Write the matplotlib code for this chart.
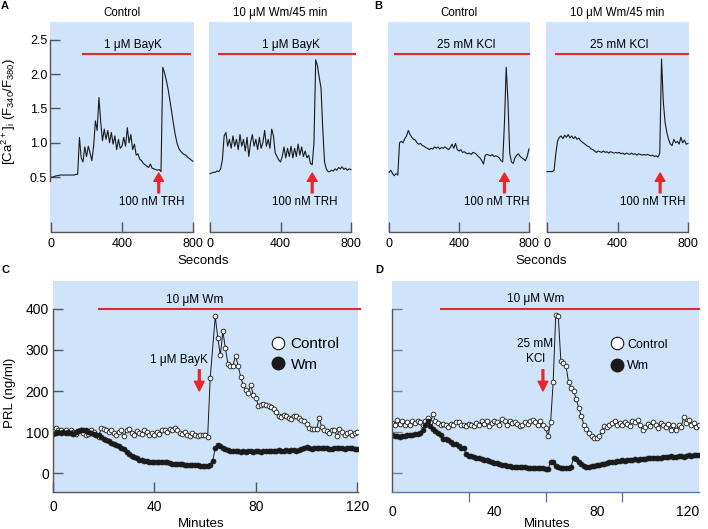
import matplotlib
matplotlib.use('Agg')
import matplotlib.pyplot as plt
import numpy as np
from matplotlib.lines import Line2D

plt.rcParams['font.family'] = ['Liberation Sans', 'DejaVu Sans']
plt.rcParams['mathtext.default'] = 'regular'

# ---------------- data ----------------
# Ca2+ traces, one value every 10 s (0..800 s)
sec = np.arange(0, 801, 10)
ca_bayk_ctrl = [0.50, 0.50, 0.51, 0.52, 0.52, 0.53, 0.53, 0.53, 0.53, 0.53, 0.53, 0.53, 0.53, 0.53, 0.54, 0.54,
                1.08, 0.78, 0.72, 0.94, 0.80, 0.95, 0.85, 0.74, 0.95, 1.32,
                1.18, 1.66, 1.30, 1.03, 1.20, 1.05, 1.18, 1.00, 1.15, 0.98,
                1.10, 0.90, 1.05, 0.92, 0.95, 1.08, 0.95, 1.22, 1.00, 1.12,
                0.90, 0.98, 0.82, 0.84, 0.76, 0.74, 0.70, 0.68, 0.66, 0.64,
                0.69, 0.63, 0.62, 0.61, 0.60, 0.61, 0.58, 2.10, 2.02, 1.91,
                1.78, 1.62, 1.45, 1.28, 1.12, 1.00, 0.92, 0.88, 0.85, 0.83,
                0.82, 0.79, 0.77, 0.75, 0.73]
ca_bayk_wm = [0.55, 0.56, 0.57, 0.57, 0.59, 0.58, 0.62, 0.75, 1.10, 1.15,
              0.95, 1.05, 0.92, 1.10, 0.95, 1.05, 0.90, 1.12, 0.95, 1.05,
              0.88, 1.08, 0.80, 1.00, 1.12, 0.95, 1.05, 0.90, 1.08, 0.92,
              1.00, 1.18, 0.95, 1.05, 0.92, 1.20, 1.10, 0.85, 0.80, 0.75,
              0.72, 0.80, 0.94, 0.78, 0.92, 0.80, 0.95, 0.78, 0.92, 0.80,
              0.98, 0.82, 0.94, 0.80, 0.88, 0.78, 0.82, 0.70, 0.68, 1.00,
              2.21, 2.12, 1.95, 1.80, 1.20, 0.72, 0.62, 0.58, 0.58, 0.60,
              0.59, 0.62, 0.60, 0.64, 0.62, 0.65, 0.61, 0.63, 0.60, 0.62,
              0.61]
ca_kcl_ctrl = [0.57, 0.60, 0.55, 0.52, 0.55, 0.53, 1.00, 1.02, 1.00, 1.06,
               1.10, 1.18, 1.12, 1.08, 1.05, 1.04, 1.00, 0.98, 0.99, 0.96,
               0.95, 0.93, 0.92, 0.90, 0.92, 0.91, 0.94, 0.92, 0.94, 0.91,
               0.93, 0.92, 0.94, 0.92, 0.90, 0.93, 0.98, 0.92, 0.99, 0.90,
               0.88, 0.90, 0.86, 0.87, 0.85, 0.84, 0.85, 0.83, 0.86, 0.85,
               0.83, 0.80, 0.78, 0.74, 0.69, 0.82, 0.83, 0.82, 0.81, 0.83,
               0.80, 0.81, 0.80, 0.78, 0.74, 0.72, 1.30, 2.10, 1.60, 0.85,
               0.72, 0.70, 0.78, 0.82, 0.84, 0.80, 0.78, 0.76, 0.74, 0.80,
               0.91]
ca_kcl_wm = [0.58, 0.58, 0.58, 0.58, 0.60, 0.85, 1.03, 1.08, 1.10, 1.06,
             1.11, 1.08, 1.12, 1.07, 1.10, 1.06, 1.09, 1.05, 1.07, 1.03,
             1.01, 0.99, 0.97, 0.95, 0.94, 0.91, 0.90, 0.88, 0.86, 0.88,
             0.87, 0.86, 0.88, 0.86, 0.87, 0.85, 0.87, 0.86, 0.85, 0.86,
             0.85, 0.86, 0.84, 0.85, 0.83, 0.85, 0.84, 0.83, 0.85, 0.83,
             0.84, 0.82, 0.84, 0.83, 0.82, 0.83, 0.82, 0.83, 0.82, 0.81,
             0.82, 0.80, 0.81, 0.79, 0.85, 2.22, 1.60, 1.30, 1.15, 1.05,
             0.98, 0.96, 1.05, 1.00, 1.02, 0.98, 1.08, 1.00, 1.04, 0.98,
             0.99]

# PRL release, one fraction per minute
minutes = np.arange(0, 121)
min_c_ctrl = list(range(0, 63)) + list(range(64, 121))
prl_bayk_ctrl = [104, 110, 106, 104, 100, 106, 98, 104, 100, 96,
                 102, 104, 98, 92, 96, 104, 100, 94, 88, 110,
                 108, 104, 100, 106, 98, 94, 100, 106, 90, 104,
                 108, 98, 94, 102, 98, 96, 104, 100, 94, 98,
                 92, 100, 96, 104, 106, 100, 108, 104, 110, 106,
                 98, 96, 100, 94, 90, 98, 92, 90, 94, 92,
                 92, 88, 231,
                 382, 329, 287, 345, 304, 266, 262, 262, 286, 262,
                 235, 215, 202, 196, 215, 190, 184, 164, 166, 168,
                 166, 164, 160, 155, 148, 140, 136, 142, 140, 134,
                 132, 140, 138, 134, 130, 126, 120, 110, 108, 108,
                 108, 134, 112, 104, 102, 98, 106, 104, 90, 108,
                 100, 94, 98, 100, 94, 98, 100]
prl_bayk_wm = [96, 98, 100, 98, 100, 98, 100, 98, 96, 100,
               102, 104, 106, 104, 100, 98, 96, 94, 92, 88,
               84, 80, 78, 74, 72, 68, 66, 62, 58, 52,
               46, 42, 39, 36, 33, 31, 30, 29, 28, 27,
               27, 27, 27, 26, 26, 26, 25, 23, 22, 22,
               21, 21, 20, 20, 19, 19, 19, 19, 18, 18,
               17, 17, 20, 30, 62, 68, 66, 62, 58, 56,
               54, 55, 53, 55, 52, 54, 51, 53, 55, 52,
               54, 53, 52, 54, 55, 53, 54, 55, 54, 56,
               55, 54, 56, 55, 57, 56, 55, 57, 58, 60,
               64, 60, 59, 60, 61, 60, 61, 62, 60, 59,
               58, 60, 61, 62, 60, 59, 61, 62, 60, 59,
               58]
prl_kcl_ctrl = [122, 118, 130, 120, 128, 116, 124, 118, 126, 122,
                128, 124, 118, 128, 134, 124, 143, 126, 122, 116,
                120, 118, 112, 120, 118, 124, 124, 116, 118, 114,
                120, 118, 114, 122, 118, 126, 120, 128, 114, 122,
                126, 124, 118, 132, 126, 118, 126, 122, 124, 120,
                114, 118, 124, 120, 128, 130, 124, 118, 126, 118,
                110, 90, 124, 222, 385, 382, 273, 269, 261, 222,
                208, 200, 180, 159, 139, 118, 108, 98, 90, 86,
                86, 90, 102, 114, 112, 118, 122, 127, 116, 122,
                118, 124, 120, 114, 128, 124, 130, 118, 104, 112,
                120, 114, 124, 118, 110, 122, 116, 112, 120, 106,
                116, 104, 118, 112, 136, 122, 130, 116, 122, 112,
                118]
prl_kcl_wm = [94, 90, 90, 88, 90, 90, 92, 92, 94, 96,
              96, 98, 104, 118, 128, 114, 108, 102, 98, 92,
              84, 82, 80, 76, 72, 70, 66, 62, 60, 46,
              42, 41, 40, 38, 36, 34, 33, 31, 29, 27,
              25, 24, 22, 20, 19, 18, 17, 16, 15, 15,
              14, 14, 14, 13, 13, 13, 12, 12, 12, 12,
              11, 10, 27, 26, 18, 15, 13, 12, 13, 13,
              16, 37, 34, 28, 22, 18, 16, 16, 18, 18,
              20, 20, 23, 23, 24, 26, 26, 28, 30, 29,
              31, 30, 32, 33, 32, 34, 33, 35, 34, 35,
              36, 37, 36, 37, 38, 38, 39, 40, 39, 41,
              40, 39, 42, 41, 40, 42, 43, 42, 44, 43,
              44]

BLUE = '#cfe4fa'
RED = '#e8262b'
SPINE = '#555555'
W, H = 708, 529

fig = plt.figure(figsize=(W / 100, H / 100), dpi=100)


def px_axes(x0, x1, y0, y1):
    return fig.add_axes([x0 / W, 1 - y1 / H, (x1 - x0) / W, (y1 - y0) / H])


def style(ax):
    ax.set_facecolor(BLUE)
    for s in ['top', 'right']:
        ax.spines[s].set_visible(False)
    for s in ['left', 'bottom']:
        ax.spines[s].set_color(SPINE)
        ax.spines[s].set_linewidth(1.0)
    ax.tick_params(direction='in', length=7.5, width=1.0, color=SPINE)


# ---------------- top row: Ca traces ----------------
traces = [
    (50, 194, ca_bayk_ctrl, 'Control', '1 μM BayK', (182, 785), 462, 607),
    (209, 352, ca_bayk_wm, '10 μM Wm/45 min', '1 μM BayK', (51, 823), 461, 580),
    (388, 530, ca_kcl_ctrl, 'Control', '25 mM KCl', (34, 800), 439, 660),
    (546, 689, ca_kcl_wm, '10 μM Wm/45 min', '25 mM KCl', (53, 800), 410, 642),
]
for i, (x0, x1, vals, title, drug, bar, tx, arrow_t) in enumerate(traces):
    ax = px_axes(x0, x1, 22, 232)
    style(ax)
    ax.plot(sec, vals, color='#1a1a1a', lw=0.8)
    ax.set_xlim(-6, 806)
    ax.set_ylim(-0.3, 2.76)
    ax.set_xticks([0, 400, 800])
    ax.tick_params(axis='x', labelsize=9, pad=4)
    ax.spines['bottom'].set_bounds(0, 800)
    if i == 0:
        ax.set_yticks([0.5, 1.0, 1.5, 2.0, 2.5])
        ax.set_yticklabels(['0.5', '1.0', '1.5', '2.0', '2.5'])
        ax.tick_params(axis='y', labelsize=9, pad=2)
        ax.spines['left'].set_bounds(0.45, 2.5)
    else:
        ax.spines['left'].set_visible(False)
        ax.tick_params(axis='y', left=False, labelleft=False)
    ax.set_title(title, fontsize=8.3, pad=4)
    ax.plot(bar, [2.30, 2.30], color=RED, lw=1.5, clip_on=False)
    ax.text(tx, 2.43, drug, ha='center', va='center', fontsize=8.5)
    ax.annotate('', xy=(arrow_t, 0.56), xytext=(arrow_t, 0.27),
                arrowprops=dict(color=RED, width=1.3, headwidth=7, headlength=6, shrink=0))
    ax.text(arrow_t - 42, 0.135, '100 nM TRH', ha='center', va='center', fontsize=8.3)

fig.text(9 / W, 1 - 112 / H, r'[Ca$^{2+}$]$_i$ (F$_{340}$/F$_{380}$)', rotation=90,
         ha='center', va='center', fontsize=9.5)
fig.text(203 / W, 1 - 261 / H, 'Seconds', ha='center', va='center', fontsize=9.5)
fig.text(541 / W, 1 - 261 / H, 'Seconds', ha='center', va='center', fontsize=9.5)

# ---------------- bottom row: PRL release ----------------
ctrl_kw = dict(color='#1a1a1a', lw=0.7, marker='o', ms=3.4, mfc='white', mec='#1a1a1a', mew=0.6)
wm_kw = dict(color='#1a1a1a', lw=0.7, marker='o', ms=3.6, mfc='#1a1a1a', mec='#1a1a1a', mew=0.5)
handles = [Line2D([], [], ls='none', marker='o', ms=9, mfc='white', mec='#1a1a1a', mew=0.8),
           Line2D([], [], ls='none', marker='o', ms=9, mfc='#1a1a1a', mec='#1a1a1a')]

# C
axc = px_axes(53, 358, 281, 492)
style(axc)
axc.plot(min_c_ctrl, prl_bayk_ctrl, **ctrl_kw)
axc.plot(minutes, prl_bayk_wm, **wm_kw)
axc.set_xlim(0, 120.3)
axc.set_ylim(-46, 468)
axc.set_xticks([0, 40, 80, 120])
axc.set_yticks([0, 100, 200, 300, 400])
axc.tick_params(labelsize=10)
axc.tick_params(axis='x', pad=6)
axc.tick_params(axis='y', pad=3)
axc.spines['left'].set_bounds(-46, 400)
axc.plot([18, 121], [400, 400], color=RED, lw=1.5, clip_on=False)
axc.text(56, 421, '10 μM Wm', ha='center', va='center', fontsize=8.5)
axc.text(49.5, 276, '1 μM BayK', ha='center', va='center', fontsize=8.5)
axc.annotate('', xy=(57.7, 200), xytext=(57.7, 252),
             arrowprops=dict(color=RED, width=1.3, headwidth=7, headlength=7, shrink=0))
axc.legend(handles, ['Control', 'Wm'], loc='upper left', bbox_to_anchor=(0.674, 0.80),
           frameon=False, fontsize=11, handlelength=0.8, handletextpad=0.4, labelspacing=0.45)
fig.text(10 / W, 1 - 393 / H, 'PRL (ng/ml)', rotation=90, ha='center', va='center', fontsize=9.5)

# D
axd = px_axes(392, 699, 281, 492)
style(axd)
axd.plot(minutes, prl_kcl_ctrl, **ctrl_kw)
axd.plot(minutes, prl_kcl_wm, **wm_kw)
axd.set_xlim(0, 120)
axd.set_ylim(-46, 468)
axd.set_xticks([0, 40, 80, 120])
axd.set_xticks([0, 30, 60, 90, 120], minor=True)
axd.tick_params(axis='x', which='major', length=0, labelsize=10, pad=9)
axd.tick_params(axis='x', which='minor', length=7.5, color='#5a78b8', width=1.0)
axd.get_xticklabels()[-1].set_horizontalalignment('right')
axd.spines['bottom'].set_color('#5a78b8')
axd.set_yticks([0, 100, 200, 300, 400])
axd.tick_params(axis='y', labelleft=False, color='#808080')
axd.spines['left'].set_bounds(-46, 400)
axd.plot([19, 120], [400, 400], color=RED, lw=1.5, clip_on=False)
axd.text(56, 424, '10 μM Wm', ha='center', va='center', fontsize=8.5)
axd.text(56, 296, '25 mM\nKCl', ha='center', va='center', fontsize=8.5, linespacing=1.25)
axd.annotate('', xy=(59, 200), xytext=(59, 252),
             arrowprops=dict(color=RED, width=1.3, headwidth=7, headlength=7, shrink=0))
axd.legend(handles, ['Control', 'Wm'], loc='upper left', bbox_to_anchor=(0.68, 0.78),
           frameon=False, fontsize=9, handlelength=0.8, handletextpad=0.4, labelspacing=0.75)

fig.text(201 / W, 1 - 524 / H, 'Minutes', ha='center', va='center', fontsize=9.5)
fig.text(547 / W, 1 - 524 / H, 'Minutes', ha='center', va='center', fontsize=9.5)

# panel letters
for lab, x, y in [('A', 5, 6), ('B', 378, 6), ('C', 5, 270), ('D', 379, 270)]:
    fig.text(x / W, 1 - y / H, lab, ha='center', va='center', fontsize=8, fontweight='bold')

fig.savefig('out.png', dpi=100)
